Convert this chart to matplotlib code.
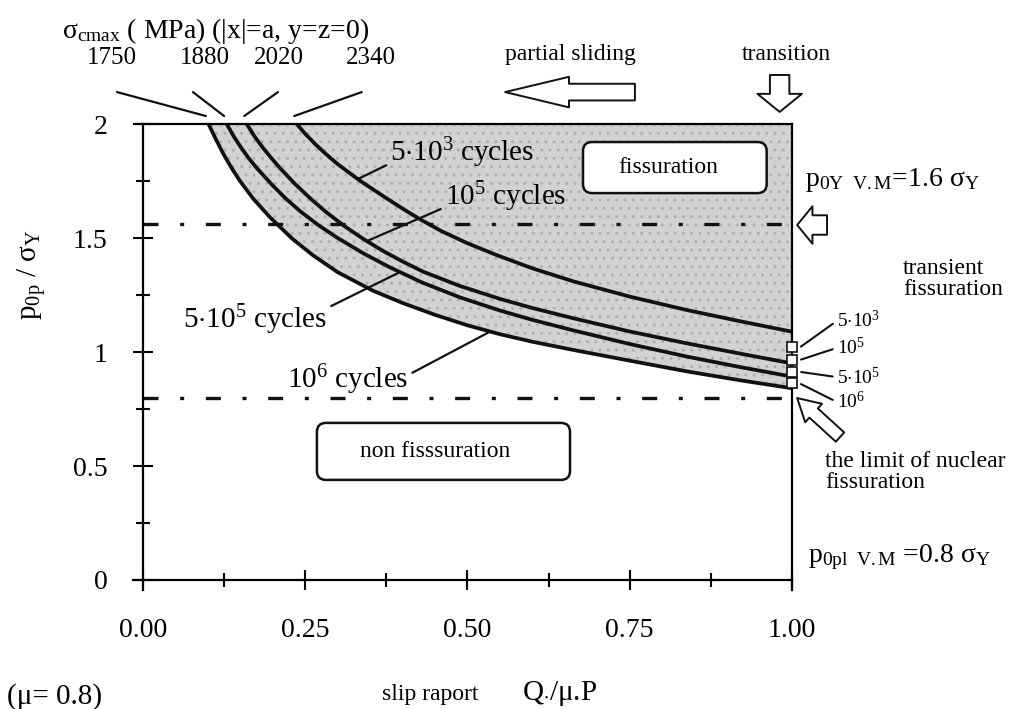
import matplotlib
matplotlib.use('Agg')
import matplotlib.pyplot as plt
import numpy as np
from matplotlib.patches import FancyBboxPatch

plt.rcParams['font.family'] = ['Liberation Serif', 'DejaVu Serif']
plt.rcParams['mathtext.fontset'] = 'custom'
plt.rcParams['mathtext.rm'] = 'Liberation Serif'
plt.rcParams['mathtext.it'] = 'Liberation Serif:italic'
plt.rcParams['mathtext.bf'] = 'Liberation Serif:bold'

# fatigue limit curves, p0p/sigmaY against slip ratio Q*/mu.P
x_5e3 = [0.237, 0.25, 0.265, 0.28, 0.30, 0.334, 0.37, 0.40, 0.427, 0.46, 0.50,
         0.545, 0.60, 0.663, 0.75, 0.838, 0.92, 1.0]
y_5e3 = [2.0, 1.957, 1.913, 1.873, 1.824, 1.752, 1.684, 1.629, 1.582, 1.53, 1.477,
         1.425, 1.367, 1.31, 1.243, 1.184, 1.135, 1.089]
x_1e5 = [0.160, 0.172, 0.185, 0.198, 0.211, 0.235, 0.26, 0.283, 0.31, 0.34, 0.37,
         0.40, 0.432, 0.488, 0.55, 0.60, 0.663, 0.75, 0.838, 0.92, 1.0]
y_1e5 = [2.0, 1.945, 1.895, 1.85, 1.807, 1.735, 1.668, 1.612, 1.553, 1.495, 1.443,
         1.397, 1.352, 1.29, 1.233, 1.193, 1.148, 1.09, 1.038, 0.993, 0.95]
x_5e5 = [0.129, 0.14, 0.152, 0.163, 0.175, 0.20, 0.22, 0.242, 0.27, 0.30, 0.34,
         0.38, 0.43, 0.488, 0.55, 0.60, 0.663, 0.75, 0.838, 0.92, 1.0]
y_5e5 = [2.0, 1.945, 1.893, 1.85, 1.808, 1.73, 1.673, 1.618, 1.557, 1.50, 1.432,
         1.372, 1.305, 1.24, 1.182, 1.141, 1.095, 1.035, 0.98, 0.934, 0.892]
x_1e6 = [0.101, 0.112, 0.124, 0.137, 0.149, 0.17, 0.196, 0.23, 0.262, 0.30, 0.355,
         0.40, 0.45, 0.50, 0.55, 0.60, 0.663, 0.75, 0.838, 0.92, 1.0]
y_1e6 = [2.0, 1.935, 1.868, 1.805, 1.752, 1.672, 1.59, 1.497, 1.424, 1.35, 1.268,
         1.215, 1.163, 1.117, 1.078, 1.045, 1.009, 0.962, 0.915, 0.876, 0.841]

sigma_labels = ['1750', '1880', '2020', '2340']
cycle_labels = [r'5$\cdot\mathrm{10}^{3}$ cycles', r'$\mathrm{10}^{5}$ cycles',
                r'5$\cdot\mathrm{10}^{5}$ cycles', r'$\mathrm{10}^{6}$ cycles']
end_labels = [r'5$\cdot\mathrm{10}^{3}$', r'$\mathrm{10}^{5}$',
              r'5$\cdot\mathrm{10}^{5}$', r'$\mathrm{10}^{6}$']
end_marks = [1.02, 0.965, 0.913, 0.862]   # little squares on the x=1 edge
limit_levels = [1.56, 0.80]               # p0Y and p0pl (von Mises)

xticks = [0, 0.25, 0.5, 0.75, 1.0]
xticklabels = ['0.00', '0.25', '0.50', '0.75', '1.00']
yticks = [0, 0.5, 1, 1.5, 2]
yticklabels = ['0', '0.5', '1', '1.5', '2']

curves = [(x_1e6, y_1e6), (x_5e5, y_5e5), (x_1e5, y_1e5), (x_5e3, y_5e3)]

fig = plt.figure(figsize=(10.19, 7.09), dpi=100)
ax = fig.add_axes([0, 0, 1, 1])
ax.set_xlim(-0.2203, 1.3498)
ax.set_ylim(-0.5658, 2.5439)

# frame
for side, pos, bnd in [('left', 0, (-0.044, 2.0)), ('bottom', 0, (-0.015, 1.0)),
                       ('top', 2, (-0.008, 1.0)), ('right', 1, (-0.044, 2.0))]:
    sp = ax.spines[side]
    sp.set_position(('data', pos))
    sp.set_bounds(*bnd)
    sp.set_linewidth(1.6)
    sp.set_zorder(4)

ax.xaxis.set_ticks_position('bottom')
ax.yaxis.set_ticks_position('left')
ax.set_xticks(xticks)
ax.set_xticklabels(xticklabels)
ax.set_xticks(np.arange(0.125, 1.0, 0.25), minor=True)
ax.set_yticks(yticks)
ax.set_yticklabels(yticklabels)
ax.set_yticks(np.arange(0.25, 2.0, 0.5), minor=True)
ax.tick_params(which='major', direction='inout', length=15, width=1.5, labelsize=20)
ax.tick_params(which='minor', direction='inout', length=10, width=1.5)
ax.tick_params(axis='x', which='major', pad=20)
ax.tick_params(axis='y', which='major', pad=18)

# shaded fissuration zone above the 10^6 curve
ax.fill_between(x_1e6, y_1e6, 2.0, facecolor='#d2d2d2', edgecolor='#b0b0b0',
                hatch='..', linewidth=0, zorder=1)

for cx, cy in curves:
    ax.plot(cx, cy, color='#111111', lw=2.7, zorder=3, solid_capstyle='butt',
            solid_joinstyle='round')

ax.hlines(limit_levels, 0, 0.99, colors='#111111', lw=2.4,
          linestyles=(0, (4.5, 6.5, 1.2, 6.5)), zorder=3)

ax.plot([1.0] * len(end_marks), end_marks, 's', ms=7, mfc='white', mec='#111111',
        mew=1.2, zorder=5, clip_on=False)

# sigma_cmax labels on top
ax.text(-0.1248, 2.408, r'$\mathrm{σ}_{\mathrm{cmax}}$ ( MPa) (|x|=a, y=z=0)',
        fontsize=20, ha='left', va='center')
sig_text_x = [-0.048, 0.0955, 0.2096, 0.351]
sig_lead_x = [-0.040, 0.077, 0.208, 0.337]
for lab, tx, lx, (cx, cy) in zip(sigma_labels, sig_text_x, sig_lead_x, curves):
    ax.text(tx, 2.289, lab, fontsize=18, ha='center', va='center')
    ax.annotate('', xy=(cx[0] - 0.004, 2.035), xytext=(lx, 2.140),
                arrowprops=dict(arrowstyle='-', lw=1.6, color='#111111',
                                shrinkA=0, shrinkB=0))

# cycle labels with leaders to the curves
cyc_pos = [(0.381, 1.873), (0.465, 1.68), (0.062, 1.14), (0.222, 0.877)]
cyc_rel = [(0.0, 0.2), (0.0, 0.2), (1.0, 0.85), (1.0, 0.65)]
cyc_xon = [0.331, 0.345, 0.396, 0.535]
cyc_curve = [curves[3], curves[2], curves[1], curves[0]]
for lab, pos, rel, xo, (cx, cy) in zip(cycle_labels, cyc_pos, cyc_rel,
                                      cyc_xon, cyc_curve):
    ax.annotate(lab, xy=(xo, np.interp(xo, cx, cy)), xytext=pos, fontsize=21,
                ha='left', va='center', zorder=6,
                arrowprops=dict(arrowstyle='-', lw=1.6, color='#111111',
                                relpos=rel, shrinkA=1, shrinkB=0))

# end labels at the right edge
end_pos = [1.136, 1.018, 0.890, 0.781]
for lab, ty, my in zip(end_labels, end_pos, end_marks):
    ax.annotate(lab, xy=(1.012, my), xytext=(1.069, ty), fontsize=14,
                ha='left', va='center',
                arrowprops=dict(arrowstyle='-', lw=1.5, color='#111111',
                                relpos=(0, 0.5), shrinkA=1, shrinkB=1))

# rounded boxes
asp = 649 / 228
for (x0, y0, w, h), lab, tx in [((0.678, 1.697, 0.283, 0.224), 'fissuration', 0.81),
                                ((0.268, 0.439, 0.390, 0.250), 'non fisssuration', 0.45)]:
    ax.add_patch(FancyBboxPatch((x0, y0), w, h,
                                boxstyle='round,pad=0,rounding_size=0.014',
                                mutation_aspect=asp, fc='white', ec='#111111',
                                lw=1.8, zorder=5))
    ax.text(tx, y0 + h / 2, lab, fontsize=17, ha='center', va='center', zorder=6)


def hollow_arrow(tail, tip, hw, hl, tw):
    ax.annotate('', xy=tip, xytext=tail,
                arrowprops=dict(arrowstyle='simple,head_width=%g,head_length=%g,tail_width=%g'
                                % (hw, hl, tw), mutation_scale=1, fc='white',
                                ec='#111111', lw=1.4, shrinkA=0, shrinkB=0),
                zorder=6)


hollow_arrow((0.758, 2.14), (0.558, 2.14), 22, 46, 12)
ax.text(0.658, 2.303, 'partial sliding', fontsize=17, ha='center', va='center')
hollow_arrow((0.981, 2.215), (0.981, 2.053), 32, 13, 14)
ax.text(0.991, 2.307, 'transition', fontsize=17, ha='center', va='center')
hollow_arrow((1.054, 1.557), (1.008, 1.557), 27, 11, 14)
hollow_arrow((1.074, 0.627), (1.008, 0.798), 18, 16, 9)

ax.text(1.020, 1.754, r'$\mathrm{p}_{\mathrm{0Y\ \ V.M}}$=1.6 $\mathrm{σ}_{\mathrm{Y}}$',
        fontsize=20, ha='left', va='center')
ax.text(1.171, 1.32, 'transient\nfissuration', fontsize=17, ha='left', va='center',
        linespacing=1.0)
ax.text(1.051, 0.474, 'the limit of nuclear\nfissuration', fontsize=17, ha='left',
        va='center', linespacing=1.0)
ax.text(1.025, 0.101, r'$\mathrm{p}_{\mathrm{0pl\ \ V.M}}$ =0.8 $\mathrm{σ}_{\mathrm{Y}}$',
        fontsize=20, ha='left', va='center')

ax.text(-0.171, 1.338, r'$\mathrm{p}_{\mathrm{0p}}$ / $\mathrm{σ}_{\mathrm{Y}}$',
        fontsize=21, rotation=90, ha='center', va='center')
ax.text(-0.2095, -0.509, '(μ= 0.8)', fontsize=21, ha='left', va='center')
ax.text(0.442, -0.504, 'slip raport', fontsize=17, ha='center', va='center')
ax.text(0.584, -0.496, r'Q$_{\bullet}$/μ.P', fontsize=21, ha='left', va='center')

fig.savefig('out.png', dpi=100, facecolor='white')
